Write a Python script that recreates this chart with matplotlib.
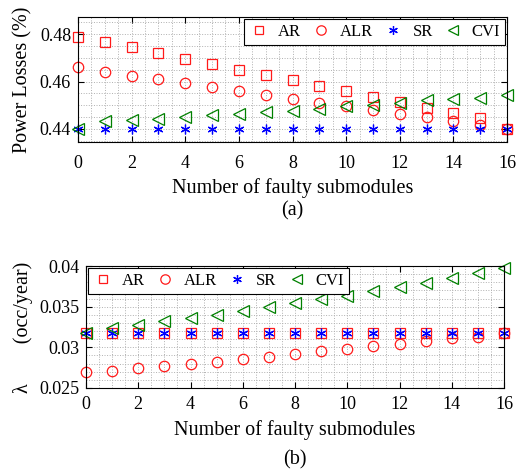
#!/usr/bin/env python3

import matplotlib
matplotlib.use('Agg')
import matplotlib.pyplot as plt
import numpy as np

plt.rcParams['font.family'] = ['Liberation Serif', 'DejaVu Serif']

faults = list(range(17))

# (a) power losses (%)
loss_ar = [0.4788, 0.4767, 0.4744, 0.4719, 0.4697, 0.4673, 0.4650, 0.4629, 0.4607,
           0.4582, 0.4561, 0.4536, 0.4514, 0.4490, 0.4468, 0.4446, 0.4400]
loss_alr = [0.4660, 0.4642, 0.4625, 0.4610, 0.4595, 0.4578, 0.4561, 0.4543, 0.4526,
            0.4511, 0.4496, 0.4482, 0.4465, 0.4449, 0.4432, 0.4417, 0.4400]
loss_sr = [0.4400] * 17
loss_cvi = [0.4400, 0.4432, 0.4436, 0.4443, 0.4450, 0.4457, 0.4464, 0.4470, 0.4476,
            0.4486, 0.4496, 0.4500, 0.4511, 0.4522, 0.4526, 0.4532, 0.4542]

# (b) failure rate (occ/year)
rate_ar = [0.03178] * 17
rate_alr = [0.02691, 0.02712, 0.02741, 0.02774, 0.02799, 0.02823, 0.02860, 0.02885,
            0.02922, 0.02951, 0.02980, 0.03012, 0.03046, 0.03083, 0.03111, 0.03132, 0.03178]
rate_sr = [0.03178] * 17
rate_cvi = [0.03178, 0.03240, 0.03277, 0.03321, 0.03363, 0.03395, 0.03444, 0.03494,
            0.03543, 0.03598, 0.03635, 0.03688, 0.03741, 0.03795, 0.03852, 0.03914, 0.03980]

labels = ['AR', 'ALR', 'SR', 'CVI']

RED = '#ff1a1a'
BLUE = '#0000ff'
GREEN = '#008000'
TICK_FS = 13
LABEL_FS = 14.5


def draw_series(ax, ar, alr, sr, cvi):
    kw = dict(ls='none', mfc='none', mew=0.9, clip_on=False)
    ax.plot(faults, ar, marker='s', ms=6.5, mec=RED, label=labels[0], **kw)
    ax.plot(faults, alr, marker='o', ms=7.5, mec=RED, label=labels[1], **kw)
    ax.plot(faults, sr, marker=(6, 2, 0), ms=7, mec=BLUE, label=labels[2], **kw)
    ax.plot(faults, cvi, marker='<', ms=8.5, mec=GREEN, label=labels[3], **kw)


def style_axis(ax, ylim, yticks, yminor, xpad, labelpad):
    ax.set_xticks(np.arange(0, 17, 2))
    ax.set_xticks(np.arange(0, 16.01, 0.5), minor=True)
    ax.set_yticks(yticks)
    ax.set_yticklabels([f'{t:g}' for t in yticks])
    ax.set_yticks(yminor, minor=True)
    ax.set_xlim(0, 16)
    ax.set_ylim(*ylim)
    ax.grid(True, which='both', color='#b0b0b0', ls=':', lw=0.7)
    ax.tick_params(which='major', direction='in', top=True, right=True, length=4,
                   labelsize=TICK_FS, width=0.8)
    ax.tick_params(axis='x', which='major', pad=xpad)
    ax.tick_params(axis='y', which='major', pad=5)
    ax.tick_params(which='minor', length=0)
    ax.set_axisbelow(True)
    ax.set_xlabel('Number of faulty submodules', fontsize=LABEL_FS, labelpad=labelpad)
    for s in ax.spines.values():
        s.set_linewidth(0.8)


def add_legend(ax, loc):
    leg = ax.legend(loc=loc, ncol=4, fontsize=12, frameon=True, fancybox=False,
                    handletextpad=0.55, columnspacing=0.6, borderaxespad=0.1, borderpad=0.3,
                    handlelength=1.2, markerscale=0.9)
    leg.get_frame().set_edgecolor('black')
    leg.get_frame().set_linewidth(0.8)
    leg.get_frame().set_alpha(1)
    return leg


fig = plt.figure(figsize=(5.16, 4.75), dpi=100)

# (a)
ax1 = fig.add_axes([78 / 516, 1 - 142 / 475, 429 / 516, 125 / 475])
draw_series(ax1, loss_ar, loss_alr, loss_sr, loss_cvi)
style_axis(ax1, (0.4345, 0.4872), [0.44, 0.46, 0.48], np.arange(0.435, 0.4871, 0.005), 9, 5)
ax1.set_ylabel('Power Losses (%)', fontsize=LABEL_FS, labelpad=5)
add_legend(ax1, 'upper right')
fig.text(0.5 * (78 + 507) / 516, 1 - 211 / 475, '(a)', ha='center', va='center',
         fontsize=LABEL_FS)

# (b)
ax2 = fig.add_axes([86 / 516, 1 - 388 / 475, 418 / 516, 122 / 475])
draw_series(ax2, rate_ar, rate_alr, rate_sr, rate_cvi)
style_axis(ax2, (0.025, 0.04), [0.025, 0.03, 0.035, 0.04], np.arange(0.025, 0.0401, 0.001), 6, 5)
ax2.set_ylabel('λ        (occ/year)', fontsize=LABEL_FS, labelpad=4)
add_legend(ax2, 'upper left')
fig.text(0.5 * (86 + 504) / 516, 1 - 460 / 475, '(b)', ha='center', va='center',
         fontsize=LABEL_FS)

fig.savefig('out.png', dpi=100)
